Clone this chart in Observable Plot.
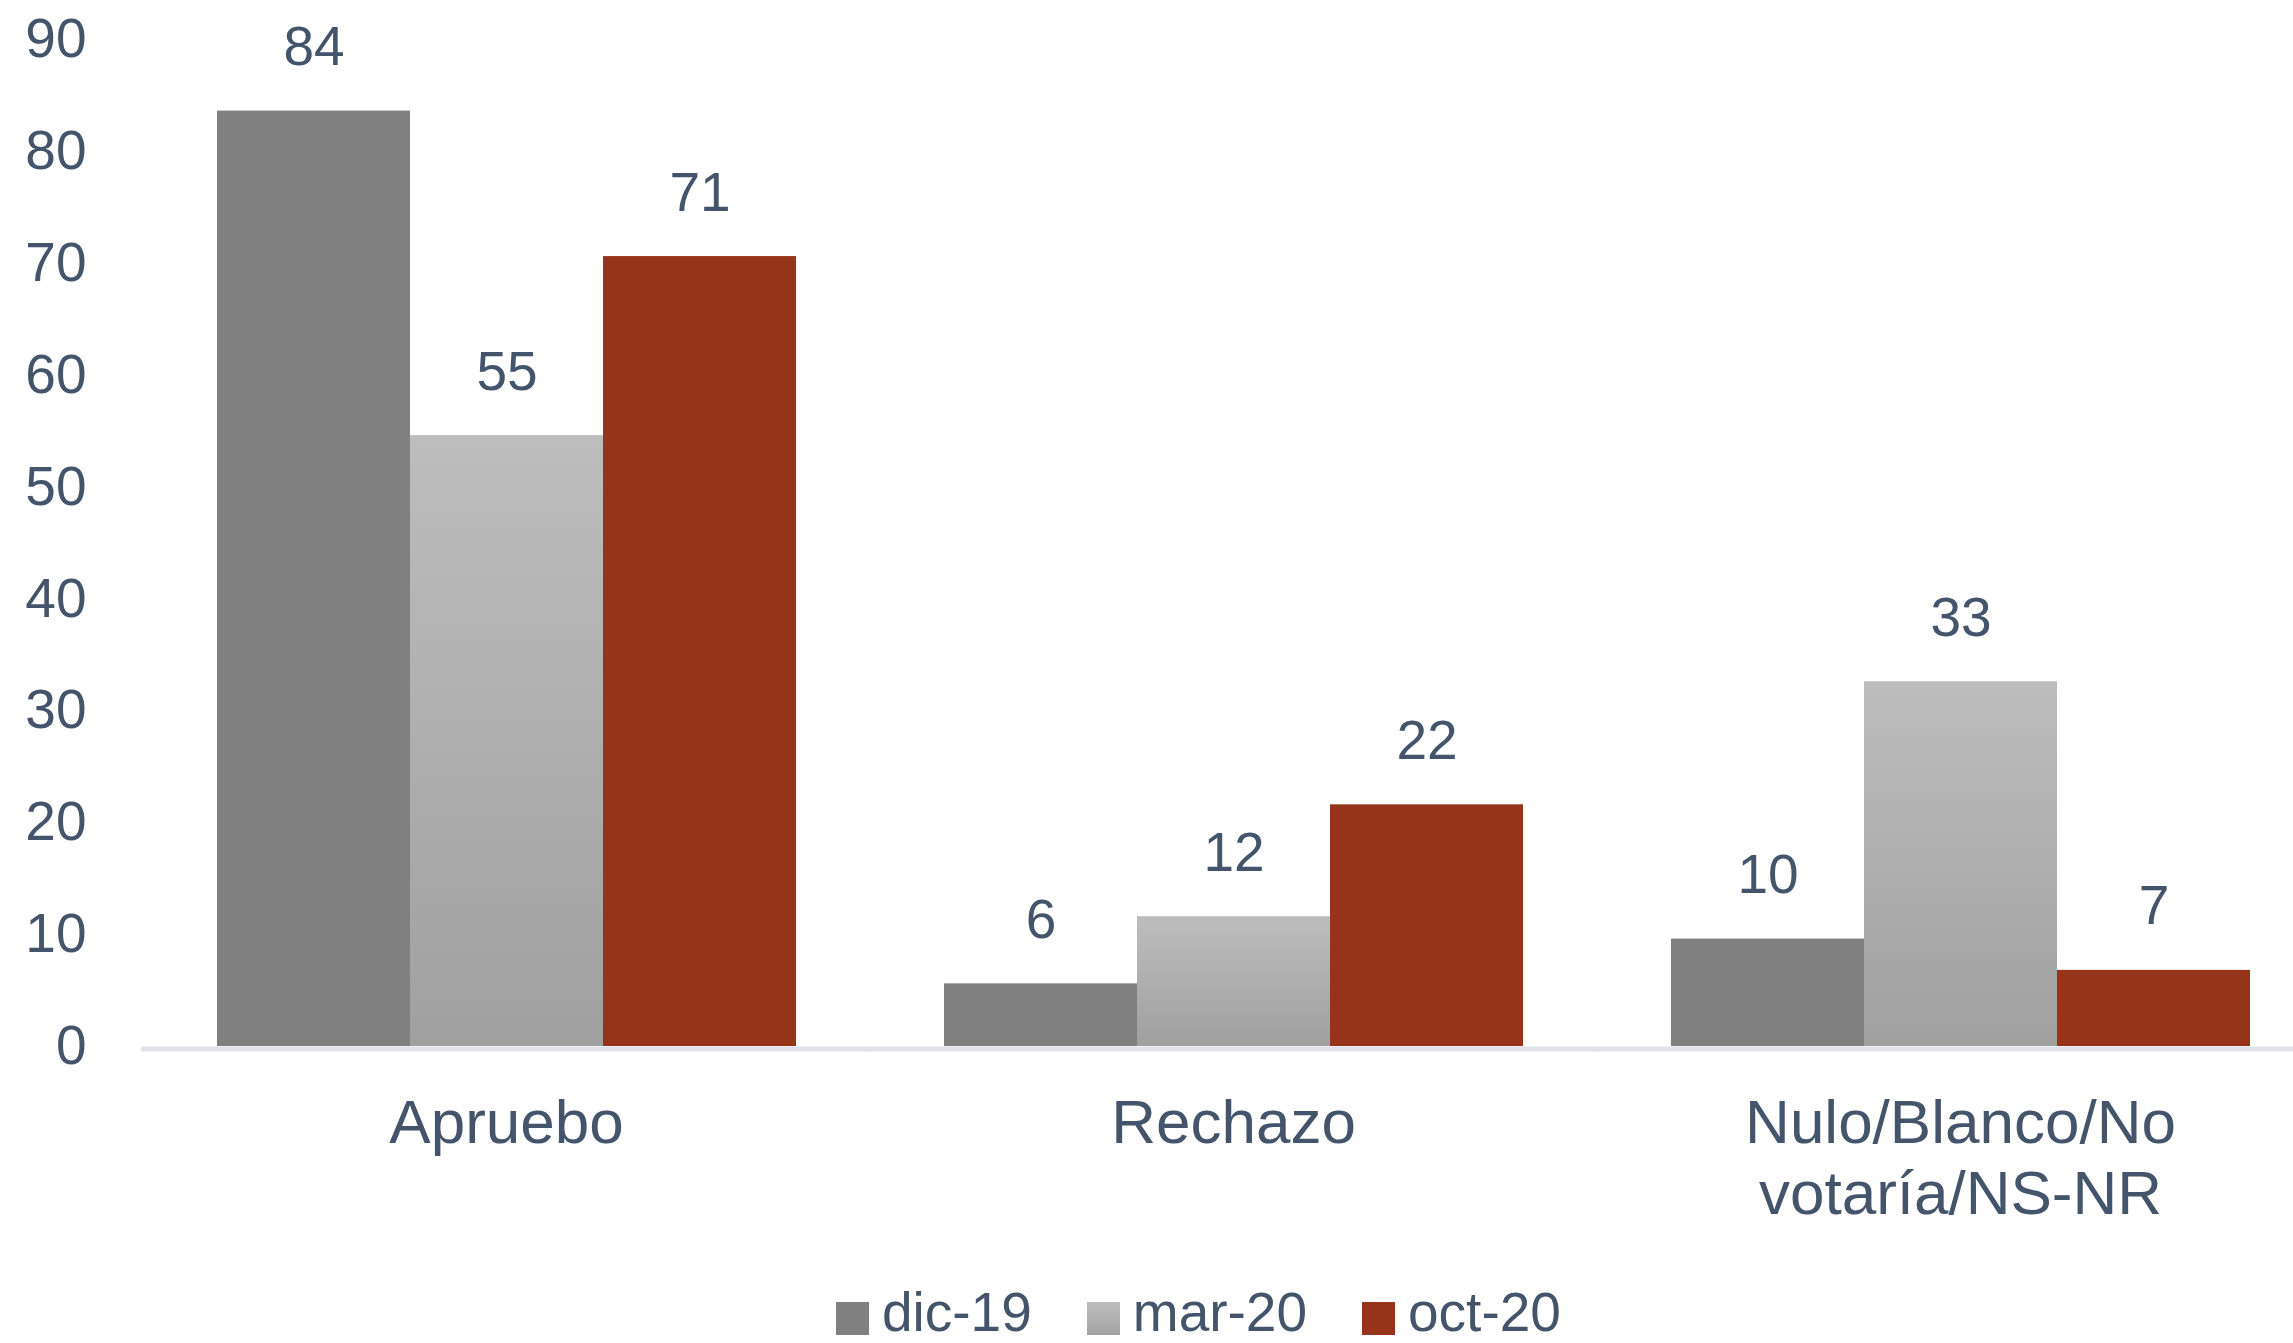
<!DOCTYPE html>
<html>
<head>
<meta charset="utf-8">
<script src="https://cdn.jsdelivr.net/npm/d3@7"></script>
<script src="https://cdn.jsdelivr.net/npm/@observablehq/plot@0.6"></script>
<style>
  html, body { margin: 0; padding: 0; background: #ffffff; overflow: hidden; }
  #chart svg { display: block; }
  #legend {
    display: flex; align-items: flex-start;
    margin-top: 0px; padding-left: 836px; height: 58px;
    font-family: "Liberation Sans", Arial, sans-serif; font-size: 55px; line-height: 55px;
    color: #44546a;
  }
  #legend .item { display: flex; align-items: flex-start; margin-right: 55px; }
  #legend .sw { width: 33px; height: 33px; margin-top: 17px; margin-right: 13px; }
</style>
</head>
<body>
<div id="chart"></div>
<div id="legend"></div>
<script>
// ---- data ----
const categories = ["Apruebo", "Rechazo", "Nulo/Blanco/No votaría/NS-NR"];
const categoryLabels = ["Apruebo", "Rechazo", "Nulo/Blanco/No\nvotaría/NS-NR"];
const series = ["dic-19", "mar-20", "oct-20"];
const dic19 = [83.6, 5.6, 9.6];
const mar20 = [54.6, 11.6, 32.6];
const oct20 = [70.6, 21.6, 6.8];
const yTicks = [0, 10, 20, 30, 40, 50, 60, 70, 80, 90];

const seriesValues = [dic19, mar20, oct20];
const seriesColors = ["#808080", "url(#gradMar)", "#963419"];
const legendSwatch = ["#808080", "linear-gradient(#bdbdbd, #a3a3a3)", "#963419"];
const textColor = "#44546a";

const data = [];
categories.forEach((c, i) => {
  series.forEach((s, j) => data.push({cat: c, series: s, value: seriesValues[j][i]}));
});
const labelOf = new Map(categories.map((c, i) => [c, categoryLabels[i]]));

const chart = Plot.plot({
  width: 2293,
  height: 1285,
  marginLeft: 143,
  marginRight: -31,
  marginTop: 39,
  marginBottom: 239,
  style: {fontFamily: "'Liberation Sans', Arial, sans-serif", background: "#ffffff", color: textColor},
  fx: {domain: categories, paddingInner: 0.202, paddingOuter: 0.101, label: null, axis: null},
  x: {domain: series, padding: 0, axis: null},
  y: {domain: [0, 90], label: null, axis: null},
  color: {type: "ordinal", domain: series, range: seriesColors},
  marks: [
    Plot.axisY({ticks: yTicks, tickSize: 0, tickPadding: 130, fontSize: 55, fill: textColor, label: null, tickFormat: d3.format("d")}),
    Plot.axisFx({anchor: "bottom", tickSize: 0, tickPadding: 46, fontSize: 62, lineHeight: 1.15, fill: textColor,
                 label: null, tickFormat: d => labelOf.get(d)}),
    Plot.barY(data, {fx: "cat", x: "series", y: "value", fill: "series"}),
    Plot.text(data, {fx: "cat", x: "series", y: "value", text: d => d3.format(".0f")(d.value),
                     lineAnchor: "bottom", dy: -46, fontSize: 55, fill: textColor}),
    Plot.ruleY([0], {stroke: "#dfe3e8", strokeWidth: 5, dy: 2.5, insetLeft: -75, insetRight: -75})
  ]
});

chart.insertAdjacentHTML("afterbegin",
  '<defs><linearGradient id="gradMar" x1="0" y1="0" x2="0" y2="1">' +
  '<stop offset="0" stop-color="#bdbdbd"/><stop offset="1" stop-color="#a0a0a0"/>' +
  '</linearGradient></defs>');
document.getElementById("chart").appendChild(chart);

const legend = document.getElementById("legend");
series.forEach((s, j) => {
  const item = document.createElement("div");
  item.className = "item";
  const sw = document.createElement("div");
  sw.className = "sw";
  sw.style.background = legendSwatch[j];
  const t = document.createElement("span");
  t.textContent = s;
  item.appendChild(sw);
  item.appendChild(t);
  legend.appendChild(item);
});
</script>
</body>
</html>
